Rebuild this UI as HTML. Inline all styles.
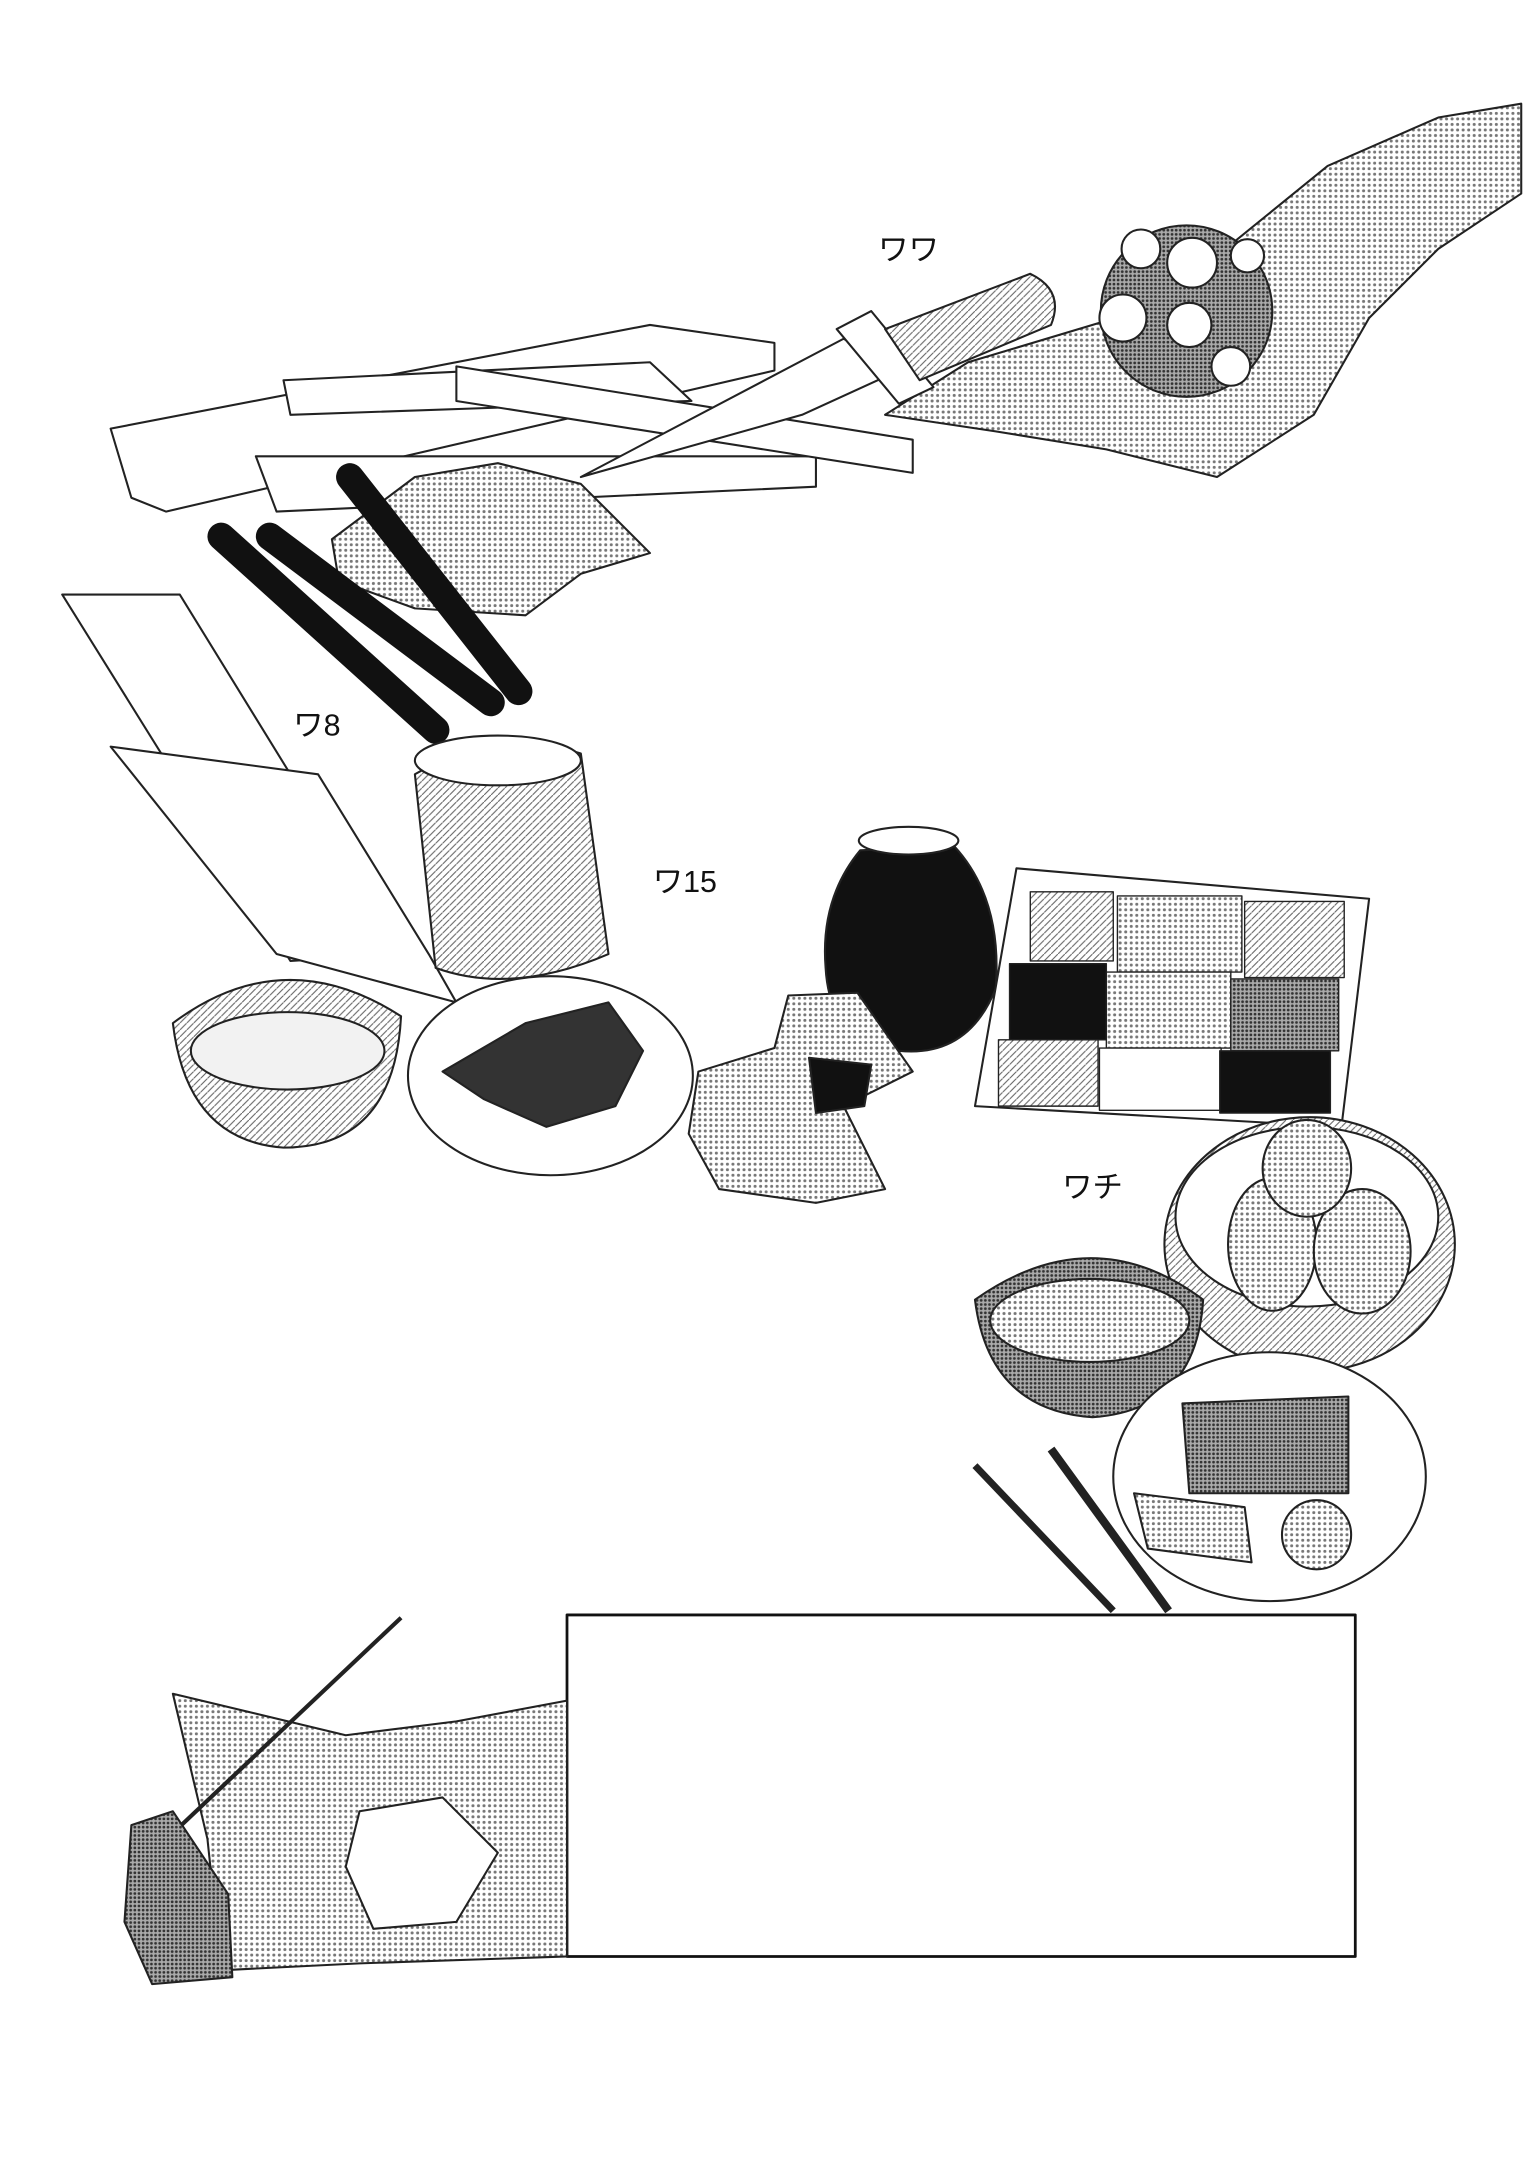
<!DOCTYPE html>
<html><head><meta charset="utf-8"><style>
html,body{margin:0;padding:0;background:#fff}
svg{display:block}
text{font-family:"Liberation Sans","Noto Sans CJK JP",sans-serif}
</style></head><body>
<svg width="1524" height="2168" viewBox="0 0 1102 1568" preserveAspectRatio="none" xmlns="http://www.w3.org/2000/svg">
<defs>
<pattern id="dots" width="4" height="4" patternUnits="userSpaceOnUse"><rect width="4" height="4" fill="#fff"/><circle cx="2" cy="2" r="1.1" fill="#777"/></pattern>
<pattern id="dotsd" width="3" height="3" patternUnits="userSpaceOnUse"><rect width="3" height="3" fill="#aaa"/><circle cx="1.5" cy="1.5" r="1" fill="#333"/></pattern>
<pattern id="hatch" width="5" height="5" patternUnits="userSpaceOnUse"><rect width="5" height="5" fill="#fff"/><path d="M0 5L5 0" stroke="#666" stroke-width="0.8"/></pattern>
</defs>
<g stroke="#222" stroke-width="1.5" stroke-linejoin="round">
<!-- cloth -->
<path d="M640 300 L700 262 L800 232 L880 185 L960 120 L1040 85 L1100 75 L1100 140 L1040 180 L990 230 L950 300 L880 345 L800 325 L720 312 Z" fill="url(#dots)"/>
<!-- flowers -->
<circle cx="858" cy="225" r="62" fill="url(#dotsd)"/>
<g fill="#fff"><circle cx="862" cy="190" r="18"/><circle cx="812" cy="230" r="17"/><circle cx="860" cy="235" r="16"/><circle cx="890" cy="265" r="14"/><circle cx="825" cy="180" r="14"/><circle cx="902" cy="185" r="12"/></g>
<!-- planks -->
<path d="M80 310 L470 235 L560 248 L560 268 L120 370 L95 360 Z" fill="#fff"/>
<path d="M205 275 L470 262 L500 290 L210 300 Z" fill="#fff"/>
<path d="M185 330 L590 330 L590 352 L200 370 Z" fill="#fff"/>
<path d="M330 265 L660 318 L660 342 L330 290 Z" fill="#fff"/>
<!-- bag -->
<path d="M240 390 L300 345 L360 335 L420 350 L470 400 L420 415 L380 445 L300 440 L245 420 Z" fill="url(#dots)"/>
<!-- knife -->
<path d="M420 345 L610 245 L650 268 L580 300 Z" fill="#fff"/>
<path d="M605 238 L630 225 L675 280 L650 292 Z" fill="#fff"/>
<path d="M640 238 L745 198 Q770 210 760 235 L665 275 Z" fill="url(#hatch)"/>
<!-- sticks -->
<g stroke="#111" stroke-linecap="round" fill="none">
<line x1="160" y1="388" x2="315" y2="528" stroke-width="20"/>
<line x1="195" y1="388" x2="355" y2="508" stroke-width="20"/>
<line x1="253" y1="345" x2="375" y2="500" stroke-width="20"/>
</g>
<!-- tray -->
<path d="M45 430 L130 430 L290 690 L210 695 Z" fill="#fff"/>
<path d="M80 540 L200 690 L330 725 L310 690 L230 560 Z" fill="#fff"/>
<!-- bucket -->
<path d="M300 560 Q360 525 420 545 L440 690 Q370 720 315 700 Z" fill="url(#hatch)"/>
<ellipse cx="360" cy="550" rx="60" ry="18" fill="#fff"/>
<!-- bean bowl -->
<path d="M125 740 Q205 680 290 735 Q285 830 205 830 Q135 825 125 740 Z" fill="url(#hatch)"/>
<ellipse cx="208" cy="760" rx="70" ry="28" fill="#f2f2f2"/>
<!-- meat plate -->
<ellipse cx="398" cy="778" rx="103" ry="72" fill="#fff"/>
<path d="M320 775 L380 740 L440 725 L465 760 L445 800 L395 815 L350 795 Z" fill="#333"/>
<!-- jar -->
<path d="M622 615 L690 612 Q725 650 720 715 Q700 765 650 760 Q600 755 597 700 Q593 650 622 615 Z" fill="#111"/>
<ellipse cx="657" cy="608" rx="36" ry="10" fill="#fff"/>
<!-- box -->
<path d="M735 628 L990 650 L970 815 L705 800 Z" fill="#fff"/>
<g stroke-width="1">
<rect x="745" y="645" width="60" height="50" fill="url(#hatch)"/>
<rect x="808" y="648" width="90" height="55" fill="url(#dots)"/>
<rect x="900" y="652" width="72" height="55" fill="url(#hatch)"/>
<rect x="730" y="697" width="70" height="55" fill="#111"/>
<rect x="800" y="703" width="90" height="55" fill="url(#dots)"/>
<rect x="890" y="708" width="78" height="52" fill="url(#dotsd)"/>
<rect x="722" y="752" width="72" height="48" fill="url(#hatch)"/>
<rect x="795" y="758" width="88" height="45" fill="#fff"/>
<rect x="882" y="760" width="80" height="45" fill="#111"/>
</g>
<!-- sack -->
<path d="M505 775 L560 758 L570 720 L620 718 L660 775 L610 800 L640 860 L590 870 L520 860 L498 820 Z" fill="url(#dots)"/>
<path d="M585 765 L630 770 L625 800 L590 805 Z" fill="#111"/>
<!-- basket -->
<ellipse cx="947" cy="900" rx="105" ry="92" fill="url(#hatch)"/>
<ellipse cx="945" cy="880" rx="95" ry="65" fill="#fff"/>
<ellipse cx="920" cy="900" rx="32" ry="48" fill="url(#dots)"/>
<ellipse cx="985" cy="905" rx="35" ry="45" fill="url(#dots)"/>
<ellipse cx="945" cy="845" rx="32" ry="35" fill="url(#dots)"/>
<!-- soup -->
<path d="M705 940 Q790 880 870 940 Q865 1020 790 1025 Q715 1020 705 940 Z" fill="url(#dotsd)"/>
<ellipse cx="788" cy="955" rx="72" ry="30" fill="url(#dots)"/>
<!-- plate 2 -->
<ellipse cx="918" cy="1068" rx="113" ry="90" fill="#fff"/>
<path d="M855 1015 L975 1010 L975 1080 L860 1080 Z" fill="url(#dotsd)"/>
<path d="M820 1080 L900 1090 L905 1130 L830 1120 Z" fill="url(#dots)"/>
<circle cx="952" cy="1110" r="25" fill="url(#dots)"/>
<!-- cutlery -->
<line x1="705" y1="1060" x2="805" y2="1165" stroke-width="5"/>
<line x1="760" y1="1048" x2="845" y2="1165" stroke-width="6"/>
<!-- text box -->
<rect x="410" y="1168" width="570" height="247" fill="#fff" stroke="#111" stroke-width="2"/>
<!-- burned paper -->
<path d="M125 1225 L250 1255 L330 1245 L410 1230 L410 1415 L260 1420 L160 1425 L150 1330 Z" fill="url(#dots)"/>
<path d="M260 1310 L320 1300 L360 1340 L330 1390 L270 1395 L250 1350 Z" fill="#fff"/>
<path d="M110 1340 L290 1170" stroke-width="3"/>
<path d="M95 1320 L125 1310 L165 1370 L168 1430 L110 1435 L90 1390 Z" fill="url(#dotsd)"/>
</g>
<g font-size="22" fill="#111">
<text x="635" y="188">ワワ</text>
<text x="212" y="532">ワ8</text>
<text x="472" y="645">ワ15</text>
<text x="768" y="866">ワチ</text>
</g>
</svg>
</body></html>
